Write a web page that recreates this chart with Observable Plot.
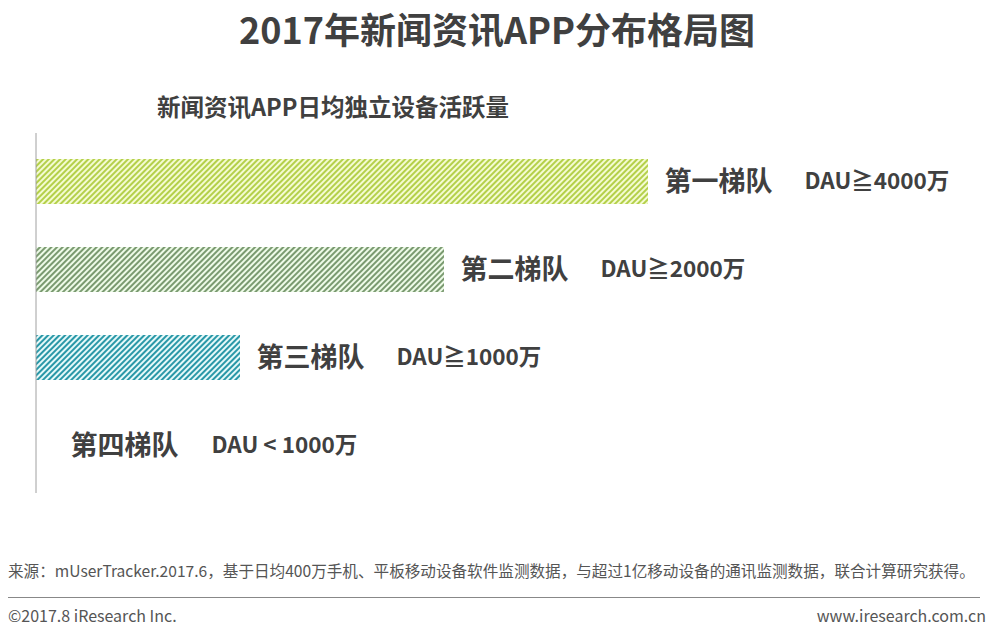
<!DOCTYPE html>
<html>
<head>
<meta charset="utf-8">
<script src="https://cdn.jsdelivr.net/npm/d3@7"></script>
<script src="https://cdn.jsdelivr.net/npm/@observablehq/plot@0.6"></script>
<style>
  html, body { margin: 0; padding: 0; background: #fff; }
  body { width: 994px; height: 636px; position: relative; overflow: hidden;
         font-family: "Noto Sans CJK SC", "Noto Sans", sans-serif; color: #404040; }
  #title { position: absolute; left: 0; width: 994px; top: 3px; text-align: center;
           font-size: 36px; font-weight: bold; line-height: 50px; }
  #subtitle { position: absolute; left: 157px; top: 90px; font-size: 23.5px; font-weight: bold; line-height: 32px; }
  #chart { position: absolute; left: 0; top: 133px; }
  #source { position: absolute; left: 8px; top: 559px; font-size: 15.6px; color: #555; line-height: 22px; white-space: nowrap; }
  #rule { position: absolute; left: 8px; top: 597px; width: 972px; height: 0; border-top: 1px solid #888; }
  #copy { position: absolute; left: 8px; top: 603px; font-size: 16px; color: #555; line-height: 24px; }
  #url { position: absolute; right: 8px; top: 603px; font-size: 16px; color: #555; line-height: 24px; }
</style>
</head>
<body>
<div id="title">2017年新闻资讯APP分布格局图</div>
<div id="subtitle">新闻资讯APP日均独立设备活跃量</div>
<div id="chart"></div>
<div id="source">来源：mUserTracker.2017.6，基于日均400万手机、平板移动设备软件监测数据，与超过1亿移动设备的通讯监测数据，联合计算研究获得。</div>
<div id="rule"></div>
<div id="copy">©2017.8 iResearch Inc.</div>
<div id="url">www.iresearch.com.cn</div>
<script>
// Data
const tiers = ["第一梯队", "第二梯队", "第三梯队", "第四梯队"];
const barLengths = [3, 2, 1, 0];
const dauLabels = ["DAU≧4000万", "DAU≧2000万", "DAU≧1000万", "DAU < 1000万"];
const stripeColors = ["#b4d04a", "#7a9a70", "#2a98a8", "#ffffff"];
const stripeBackgrounds = ["#f4fbd2", "#eefbe8", "#e6f9f9", "#ffffff"];

const rows = tiers.map((t, i) => ({tier: t, value: barLengths[i], dau: dauLabels[i], idx: i}));
const withBar = rows.filter(d => d.value > 0);
const noBar = rows.filter(d => d.value === 0);

const tierText = {x: "value", y: "tier", text: "tier", textAnchor: "start",
  fontSize: 27, fontWeight: "bold", fill: "#404040", fontFamily: "Noto Sans CJK SC"};
const dauText = {x: "value", y: "tier", text: "dau", textAnchor: "start",
  fontSize: 22.5, fontWeight: "bold", fill: "#404040", fontFamily: "Noto Sans CJK SC"};

const chart = Plot.plot({
  width: 994,
  height: 360,
  marginLeft: 36,
  marginRight: 40,
  marginTop: 0,
  marginBottom: 0,
  style: {background: "transparent"},
  x: {domain: [0, 4.5], axis: null},
  y: {domain: tiers, axis: null, paddingInner: 0.49, paddingOuter: 0.27},
  color: {type: "identity"},
  marks: [
    Plot.barX(withBar, {
      x: "value", y: "tier",
      fill: d => `url(#stripe${d.idx})`
    }),
    Plot.ruleX([0], {stroke: "#a0a0a0", strokeWidth: 1, dx: -0.5}),
    Plot.text(withBar, {...tierText, dx: 16}),
    Plot.text(noBar, {...tierText, dx: 34}),
    Plot.text(withBar, {...dauText, dx: 156}),
    Plot.text(noBar, {...dauText, dx: 175})
  ]
});

// stripe patterns
const ns = "http://www.w3.org/2000/svg";
const defs = document.createElementNS(ns, "defs");
stripeColors.forEach((c, i) => {
  const p = document.createElementNS(ns, "pattern");
  p.setAttribute("id", `stripe${i}`);
  p.setAttribute("patternUnits", "userSpaceOnUse");
  p.setAttribute("width", 4);
  p.setAttribute("height", 4);
  p.setAttribute("patternTransform", "rotate(45)");
  const bg = document.createElementNS(ns, "rect");
  bg.setAttribute("width", 4); bg.setAttribute("height", 4);
  bg.setAttribute("fill", stripeBackgrounds[i]);
  const fg = document.createElementNS(ns, "rect");
  fg.setAttribute("width", 2); fg.setAttribute("height", 4);
  fg.setAttribute("fill", c);
  p.appendChild(bg); p.appendChild(fg);
  defs.appendChild(p);
});
chart.insertBefore(defs, chart.firstChild);
document.getElementById("chart").appendChild(chart);
</script>
</body>
</html>
